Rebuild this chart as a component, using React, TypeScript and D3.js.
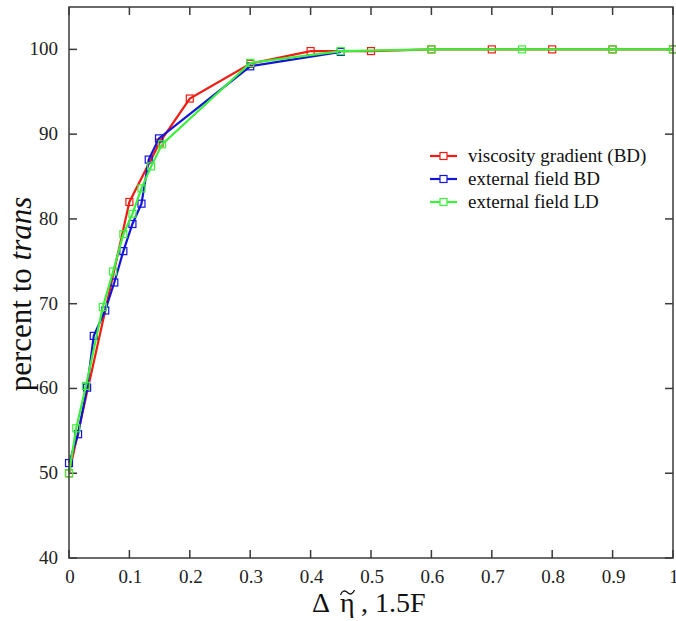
import React from "react";
import * as d3 from "d3";

const W = 676;
const H = 621;

const xTicks = [0, 0.1, 0.2, 0.3, 0.4, 0.5, 0.6, 0.7, 0.8, 0.9, 1];
const xTickLabels = ["0", "0.1", "0.2", "0.3", "0.4", "0.5", "0.6", "0.7", "0.8", "0.9", "1"];
const yTicks = [40, 50, 60, 70, 80, 90, 100];
const yTickLabels = ["40", "50", "60", "70", "80", "90", "100"];

const seriesNames = ["viscosity gradient (BD)", "external field BD", "external field LD"];
const seriesColors = ["#f01c14", "#1414d8", "#3cf03c"];

const viscX = [0, 0.1, 0.15, 0.2, 0.3, 0.4, 0.5, 0.6, 0.7, 0.8, 0.9, 1.0];
const viscY = [50, 82, 89, 94.2, 98.3, 99.8, 99.8, 100, 100, 100, 100, 100];

const bdX = [0, 0.015, 0.03, 0.041, 0.06, 0.075, 0.09, 0.105, 0.12, 0.132, 0.149, 0.3, 0.45];
const bdY = [51.2, 54.6, 60.1, 66.2, 69.2, 72.5, 76.2, 79.4, 81.8, 87, 89.5, 98, 99.7];

const ldX = [0, 0.012, 0.028, 0.056, 0.073, 0.09, 0.105, 0.12, 0.136, 0.154, 0.3, 0.45, 0.6, 0.75, 0.9, 1.0];
const ldY = [50, 55.3, 60.3, 69.6, 73.8, 78.2, 80.6, 83.6, 86.2, 88.8, 98.4, 99.8, 100, 100, 100, 100];

const left = 69, right = 673, top = 7, bottom = 558;

export default function App() {
  const x = d3.scaleLinear().domain([0, 1]).range([left, right]);
  const y = d3.scaleLinear().domain([40, 105]).range([bottom, top]);
  const line = d3.line<[number, number]>().x(d => x(d[0])).y(d => y(d[1]));

  const series = [
    { xs: viscX, ys: viscY },
    { xs: bdX, ys: bdY },
    { xs: ldX, ys: ldY },
  ].map((s, i) => ({
    pts: s.xs.map((v, j) => [v, s.ys[j]] as [number, number]),
    color: seriesColors[i],
    name: seriesNames[i],
  }));

  const font = "'Liberation Serif', 'Times New Roman', serif";
  const frame = "#3a3a3a";
  const ms = 7;
  const tl = 8;

  return (
    <svg width={W} height={H} style={{ position: "absolute", left: 0, top: 0, background: "#fff" }} fontFamily={font}>
      <rect x={0} y={0} width={W} height={H} fill="#fff" />
      {/* ticks */}
      {xTicks.map((t, i) => (
        <g key={"xt" + i}>
          <line x1={x(t)} x2={x(t)} y1={bottom} y2={bottom - tl} stroke={frame} strokeWidth={1.5} />
          <line x1={x(t)} x2={x(t)} y1={top} y2={top + tl} stroke={frame} strokeWidth={1.5} />
          <text x={x(t) + 1} y={583} fontSize={19} textAnchor="middle" fill="#222">{xTickLabels[i]}</text>
        </g>
      ))}
      {yTicks.map((t, i) => (
        <g key={"yt" + i}>
          <line x1={left} x2={left + tl} y1={y(t)} y2={y(t)} stroke={frame} strokeWidth={1.5} />
          <line x1={right} x2={right - tl} y1={y(t)} y2={y(t)} stroke={frame} strokeWidth={1.5} />
          <text x={58} y={y(t) + 6} fontSize={19} textAnchor="end" fill="#222">{yTickLabels[i]}</text>
        </g>
      ))}
      {/* series */}
      {series.map((s, i) => (
        <g key={"s" + i}>
          <path d={line(s.pts) || ""} fill="none" stroke={s.color} strokeWidth={2.2} />
          {s.pts.map((p, j) => (
            <rect key={j} x={x(p[0]) - ms / 2} y={y(p[1]) - ms / 2} width={ms} height={ms}
              fill="none" stroke={s.color} strokeWidth={1.2} />
          ))}
        </g>
      ))}
      {/* frame */}
      <rect x={left} y={top} width={right - left} height={bottom - top} fill="none" stroke={frame} strokeWidth={1.5} />
      {/* legend */}
      {series.map((s, i) => {
        const ly = 156 + i * 23;
        return (
          <g key={"lg" + i}>
            <line x1={430} x2={457} y1={ly} y2={ly} stroke={s.color} strokeWidth={2.2} />
            <rect x={443.5 - ms / 2} y={ly - ms / 2} width={ms} height={ms} fill="#fff" stroke={s.color} strokeWidth={1.2} />
            <text x={468} y={ly + 6} fontSize={19} fill="#111">{s.name}</text>
          </g>
        );
      })}
      {/* y title */}
      <text transform="translate(31,294) rotate(-90)" textAnchor="middle" fontSize={31} fill="#111">
        percent to <tspan fontStyle="italic">trans</tspan>
      </text>
      {/* x title */}
      <text x={312} y={612} fontSize={28} fill="#111">Δ</text>
      <text x={340} y={612} fontSize={28} fill="#111">η</text>
      <path d="M340.5,595 C342,590.5 345,590 347.5,592.5 C350,595 352.5,594.5 354.5,590" fill="none" stroke="#111" strokeWidth={1.3} />
      <text x={361} y={612} fontSize={28} fill="#111">, 1.5F</text>
    </svg>
  );
}
